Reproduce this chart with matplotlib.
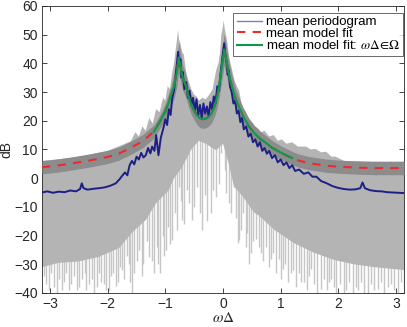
import numpy as np
import matplotlib
matplotlib.use("Agg")
import matplotlib.pyplot as plt
from matplotlib.lines import Line2D

plt.rcParams['font.family'] = ['Liberation Sans', 'DejaVu Sans']
plt.rcParams['mathtext.fontset'] = 'stix'

# ---------------- data ----------------
# mean model fit (dB) at frequencies omega*Delta
model_w = [-3.14, -2.9, -2.6, -2.3, -2.0, -1.8, -1.6, -1.4, -1.2, -1.1,
           -1.0, -0.95, -0.9, -0.85, -0.8, -0.77, -0.74, -0.7, -0.65, -0.6,
           -0.55, -0.5, -0.45, -0.4, -0.35, -0.3, -0.25, -0.2, -0.15, -0.1,
           -0.06, -0.03, 0.0, 0.02, 0.05, 0.08, 0.12, 0.16, 0.22, 0.28,
           0.35, 0.45, 0.55, 0.65, 0.75, 0.85, 1.0, 1.1, 1.2, 1.3,
           1.45, 1.6, 1.8, 2.0, 2.3, 2.6, 2.9, 3.14]
model_db = [3.8, 4.3, 5.2, 6.2, 7.4, 8.6, 10.6, 12.8, 16.2, 19.5,
            23.3, 26, 29, 32, 37, 42, 39, 35, 32.5, 28.5,
            25.5, 23.5, 21.8, 20.8, 20.5, 20.7, 21.3, 22.5, 24.8, 28.5,
            33, 37.5, 42, 44.8, 42, 38.5, 34.5, 31.5, 27.5, 24.7,
            21.5, 18, 15.5, 13.6, 12.2, 10.6, 8.9, 7.9, 7.0, 6.2,
            5.4, 4.9, 4.3, 4.0, 3.7, 3.5, 3.5, 3.5]
# half-width of the dark band of individual model fits (dB)
fit_spread = [2.3, 2.3, 2.3, 2.3, 2.3, 2.3, 2.3, 2.3, 2.3, 2.3,
              2.8, 3.2, 3.6, 4.2, 5.0, 5.5, 5.0, 4.5, 4.0, 3.6,
              3.4, 3.3, 3.2, 3.2, 3.2, 3.2, 3.2, 3.3, 3.5, 3.8,
              4.3, 4.8, 5.3, 5.5, 5.2, 4.8, 4.3, 3.9, 3.5, 3.2,
              3.0, 2.8, 2.7, 2.6, 2.5, 2.5, 2.4, 2.4, 2.3, 2.3,
              2.3, 2.3, 2.3, 2.3, 2.3, 2.3, 2.3, 2.3]
omega_range = (-1.2, 1.2)

# mean periodogram (dB)
mean_pg = [(-3.14, -5.0), (-3.05, -4.6), (-2.95, -5.1), (-2.85, -4.7), (-2.75, -4.9),
           (-2.65, -4.3), (-2.55, -4.6), (-2.48, -3.8), (-2.45, -1.8), (-2.42, -3.5),
           (-2.35, -4.0), (-2.25, -3.7), (-2.15, -3.5), (-2.05, -3.2), (-1.95, -2.6),
           (-1.86, -1.8), (-1.8, -0.5), (-1.75, 0.8), (-1.7, 2.0), (-1.66, 1.0),
           (-1.62, 4.5), (-1.58, 6.0), (-1.54, 4.8), (-1.5, 7.5), (-1.46, 6.5),
           (-1.42, 8.8), (-1.38, 7.2), (-1.34, 8.0), (-1.3, 10.5), (-1.26, 8.6),
           (-1.23, 11.0), (-1.19, 9.5), (-1.16, 15.0), (-1.12, 8.0), (-1.08, 14.0),
           (-1.04, 17.0), (-1.0, 20.5), (-0.97, 18.5), (-0.94, 24.0), (-0.91, 22.0),
           (-0.88, 28.0), (-0.85, 30.5), (-0.82, 36.0), (-0.8, 40.0), (-0.78, 44.0),
           (-0.76, 39.0), (-0.74, 41.5), (-0.72, 35.0), (-0.7, 37.0), (-0.67, 31.0),
           (-0.64, 33.5), (-0.61, 28.0), (-0.58, 30.5), (-0.55, 25.5), (-0.52, 28.0),
           (-0.49, 23.5), (-0.46, 27.5), (-0.43, 22.0), (-0.4, 25.5), (-0.37, 21.0),
           (-0.34, 26.0), (-0.31, 22.5), (-0.28, 25.0), (-0.25, 21.5), (-0.22, 26.5),
           (-0.19, 24.0), (-0.16, 28.5), (-0.13, 26.0), (-0.1, 32.0), (-0.07, 30.5),
           (-0.04, 37.0), (-0.02, 40.5), (0.0, 44.0), (0.02, 47.0), (0.04, 43.0),
           (0.06, 40.5), (0.08, 36.0), (0.1, 37.5), (0.12, 32.0), (0.15, 30.0),
           (0.18, 26.0), (0.21, 27.0), (0.24, 22.5), (0.27, 23.5), (0.3, 19.5),
           (0.33, 21.0), (0.36, 17.0), (0.4, 18.0), (0.44, 14.5), (0.48, 15.5),
           (0.52, 12.5), (0.56, 13.5), (0.6, 11.0), (0.64, 12.5), (0.68, 9.5),
           (0.72, 10.5), (0.76, 8.5), (0.8, 9.5), (0.85, 7.0), (0.9, 8.0),
           (0.95, 5.5), (1.0, 6.5), (1.05, 4.5), (1.1, 5.5), (1.15, 3.5),
           (1.2, 4.5), (1.25, 2.5), (1.32, 3.0), (1.4, 1.5), (1.48, 2.0),
           (1.55, 0.5), (1.62, 0.5), (1.7, -1.0), (1.8, -1.8), (1.9, -2.8),
           (2.0, -3.4), (2.1, -3.8), (2.2, -4.0), (2.3, -3.9), (2.38, -3.5),
           (2.42, -1.5), (2.46, -3.5), (2.55, -4.2), (2.65, -4.5), (2.75, -4.6),
           (2.85, -4.9), (2.95, -5.0), (3.05, -5.1), (3.14, -5.2)]

# envelope of the individual periodograms (dB)
pg_upper = [(-3.14, 6.0), (-2.5, 7.3), (-2.0, 9.5), (-1.6, 12.8), (-1.52, 16), (-1.46, 14.5),
            (-1.4, 18), (-1.34, 16.5), (-1.28, 21), (-1.22, 19), (-1.16, 24), (-1.1, 23),
            (-1.04, 28), (-1.0, 27), (-0.96, 32), (-0.92, 31), (-0.88, 37), (-0.85, 40),
            (-0.82, 45), (-0.8, 48), (-0.78, 51.5), (-0.76, 48), (-0.74, 47), (-0.71, 44),
            (-0.68, 43), (-0.64, 37), (-0.6, 34), (-0.55, 31), (-0.5, 29), (-0.46, 28.5),
            (-0.42, 27), (-0.36, 28), (-0.3, 27.5), (-0.24, 29), (-0.18, 31), (-0.12, 37.5),
            (-0.08, 40), (-0.05, 44), (-0.03, 50), (0.0, 53), (0.01, 55), (0.03, 52),
            (0.05, 50), (0.07, 48), (0.1, 43), (0.13, 40), (0.16, 37.5), (0.2, 34),
            (0.24, 32), (0.28, 30.5), (0.32, 26), (0.36, 24), (0.4, 23), (0.45, 20),
            (0.5, 19.5), (0.55, 18), (0.6, 17.5), (0.66, 16), (0.72, 16.5), (0.8, 14.5),
            (0.88, 15), (0.95, 13), (1.02, 13.5), (1.1, 12), (1.2, 12.5), (1.3, 11),
            (1.44, 11), (1.52, 10), (1.6, 10.2), (1.7, 9), (1.79, 9.2), (1.88, 7.5),
            (1.95, 7.5), (2.1, 6), (2.5, 5.8), (3.14, 5.8)]
pg_lower = [(-3.14, -31), (-2.85, -29.5), (-2.5, -29), (-2.15, -27.4), (-1.8, -24.3),
            (-1.58, -19), (-1.34, -14.6), (-1.16, -8.7), (-0.94, -4.2), (-0.85, 0),
            (-0.71, 3.8), (-0.55, 10), (-0.42, 13), (-0.3, 12), (-0.12, 9.7), (0.0, 12),
            (0.1, 5), (0.19, -3), (0.33, -6), (0.54, -12), (0.62, -13), (0.89, -18),
            (1.23, -22.6), (1.58, -26), (1.93, -28.5), (2.27, -30), (2.62, -31), (3.14, -32)]
# deepest downward excursions of single periodograms (omega, dB)
pg_dips = [(-3.11, -34), (-3.07, -37), (-3.02, -39), (-2.98, -33), (-2.93, -38),
           (-2.88, -40), (-2.84, -35), (-2.80, -39), (-2.76, -36), (-2.72, -33),
           (-2.67, -39), (-2.63, -37), (-2.58, -34), (-2.53, -39), (-2.49, -38),
           (-2.45, -35), (-2.40, -33), (-2.37, -39), (-2.33, -37), (-2.28, -35),
           (-2.24, -40), (-2.19, -38), (-2.16, -33), (-2.12, -36), (-2.07, -37),
           (-2.03, -39), (-1.98, -39), (-1.94, -34), (-1.90, -33), (-1.86, -37.5),
           (-1.82, -36), (-1.79, -31), (-1.75, -32), (-1.71, -35), (-1.67, -27),
           (-1.63, -30), (-1.61, -36), (-1.58, -40), (-1.54, -33), (-1.49, -28.7),
           (-1.45, -25), (-1.41, -34), (-1.38, -30), (-1.32, -22), (-1.28, -27.5),
           (-1.24, -29), (-1.2, -33), (-1.14, -24), (-1.12, -30), (-1.09, -33),
           (-1.05, -20), (-1.02, -27), (-0.99, -25), (-0.96, -17), (-0.92, -23),
           (-0.88, -21.5), (-0.84, -12), (-0.80, -18), (-0.76, -3), (-0.73, -8),
           (-0.71, -14.6), (-0.67, -16), (-0.63, -4), (-0.59, -8.8), (-0.54, -14.6),
           (-0.50, -10), (-0.46, -3), (-0.40, -12), (-0.36, -18), (-0.31, -6),
           (-0.27, -15), (-0.21, -12.2), (-0.17, -4), (-0.12, -6.4), (-0.07, -2),
           (-0.03, 8.6), (0.03, 3), (0.06, -5), (0.1, -8.8), (0.14, -12),
           (0.19, -3), (0.22, -14), (0.26, -22.6), (0.28, -21.5), (0.31, -18),
           (0.35, -12), (0.39, -24), (0.42, -19), (0.45, -30), (0.49, -26),
           (0.52, -22), (0.57, -21.3), (0.62, -24), (0.66, -25.9), (0.70, -29),
           (0.75, -24), (0.79, -31), (0.83, -28.2), (0.87, -26), (0.92, -33),
           (0.97, -28), (1.00, -35), (1.04, -31.7), (1.08, -30), (1.12, -36),
           (1.18, -33), (1.22, -32), (1.27, -38), (1.31, -33), (1.35, -36.3),
           (1.40, -36), (1.45, -39), (1.49, -34), (1.53, -31.7), (1.58, -37),
           (1.63, -40), (1.7, -38.6), (1.75, -35), (1.80, -39), (1.84, -36),
           (1.88, -35), (1.92, -38), (1.96, -40), (2.03, -37), (2.09, -40),
           (2.14, -39), (2.19, -36), (2.26, -40), (2.30, -38), (2.34, -39),
           (2.40, -36), (2.45, -40), (2.52, -40), (2.57, -37), (2.62, -39),
           (2.69, -38.6), (2.74, -36), (2.8, -40), (2.86, -38), (2.92, -37),
           (2.97, -39), (3.04, -40), (3.09, -36), (3.14, -38.6)]

xticks = [-3, -2, -1, 0, 1, 2, 3]
yticks = [-40, -30, -20, -10, 0, 10, 20, 30, 40, 50, 60]

# ---------------- plotting ----------------
fig = plt.figure(figsize=(4.07, 3.27), dpi=100)
ax = fig.add_axes([0.103, 0.104, 0.890, 0.878])

mw = np.array(model_w)
mdb = np.array(model_db)
spread = np.array(fit_spread)

uw, uv = np.array(pg_upper).T
lw_, lv = np.array(pg_lower).T
poly_x = np.concatenate([uw, lw_[::-1]])
poly_y = np.concatenate([uv, lv[::-1]])

dw, dv = np.array(pg_dips).T
tops = np.where(np.abs(dw) < 0.9, 14.0, 0.0)
ax.vlines(dw, dv, tops, colors='#c6c6c6', linewidth=1.0, zorder=1)
ax.fill(poly_x, poly_y, color='#b4b4b4', lw=0, zorder=2)

ax.fill_between(mw, mdb - spread, mdb + spread, color='#8c8c8c', lw=0, zorder=3)

pw, pv = np.array(mean_pg).T
ax.plot(pw, pv, color='#1c1f86', lw=1.4, zorder=4)

ax.plot(mw, mdb, color='#ee2a2a', lw=1.5, ls=(0, (4, 3.5)), zorder=5)
mask = (mw >= omega_range[0]) & (mw <= omega_range[1])
ax.plot(mw[mask], mdb[mask], color='#0a9a4a', lw=1.5, zorder=6)

ax.set_xlim(-np.pi, np.pi)
ax.set_ylim(-40, 60)
ax.set_xticks(xticks)
ax.set_yticks(yticks)
ax.tick_params(direction='in', length=3.5, width=0.6, top=True, right=True,
               labelsize=10, colors='#262626', pad=3)
for s in ax.spines.values():
    s.set_linewidth(0.6)
    s.set_color('#262626')
ax.set_xlabel(r'$\omega\Delta$', fontsize=11, color='#262626', labelpad=0)
ax.set_ylabel('dB', fontsize=10, color='#262626')
ax.yaxis.set_label_coords(-0.08, 0.5)

handles = [Line2D([], [], color='#7c7fb8', lw=1.0),
           Line2D([], [], color='#ee2a2a', lw=1.5, ls=(0, (4, 3.5))),
           Line2D([], [], color='#0a9a4a', lw=1.5)]
labels = ['mean periodogram', 'mean model fit',
          r'mean model fit: $\omega\Delta\!\in\!\Omega$']
leg = ax.legend(handles, labels, loc='upper right', bbox_to_anchor=(0.997, 0.976),
                borderaxespad=0, fontsize=9.5, frameon=True, fancybox=False,
                handlelength=1.9, handletextpad=0.3, labelspacing=-0.05,
                borderpad=0.25)
leg.get_frame().set_edgecolor('#262626')
leg.get_frame().set_linewidth(0.6)
leg.set_zorder(10)

fig.savefig('out.png', dpi=100)
